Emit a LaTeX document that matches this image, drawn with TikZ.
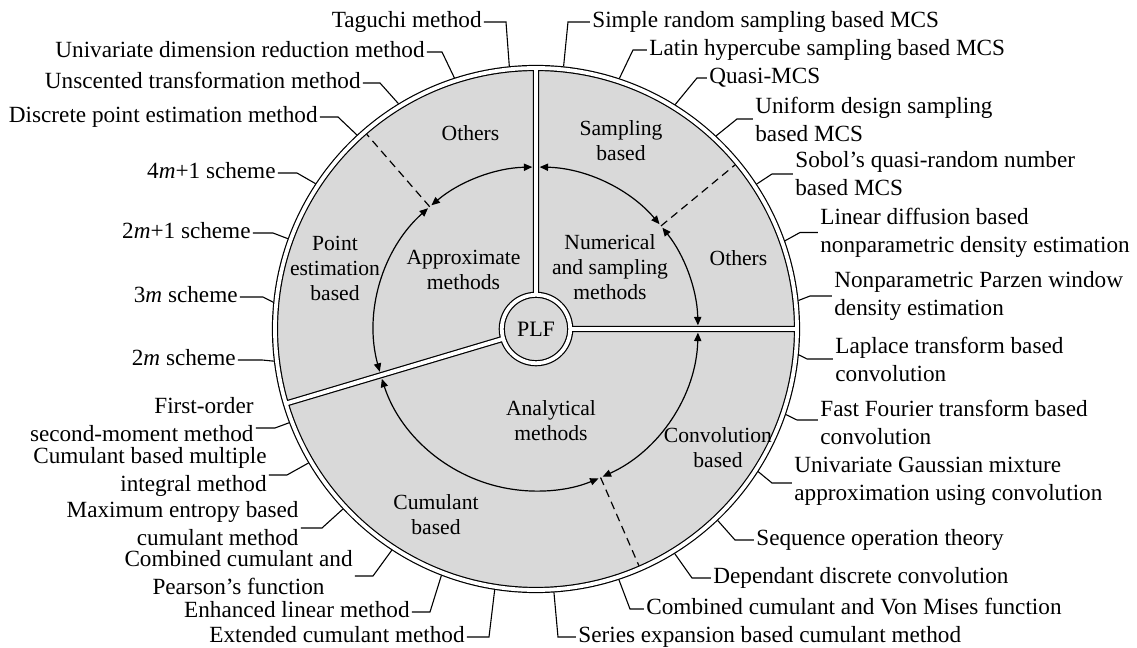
\documentclass[tikz,border=0pt]{standalone}
\usepackage{fontspec}
\setmainfont{Liberation Serif}
\usetikzlibrary{arrows.meta}

\begin{document}
\begin{tikzpicture}[
  x=0.5pt, y=0.5pt,
  ring/.style={draw=black, line width=0.6pt, double=white, double distance=1.9pt},
  loopar/.style={line width=0.6pt, {Triangle[length=4.2pt,width=3.6pt]}-{Triangle[length=4.2pt,width=3.6pt]}},
  cut/.style={line width=0.6pt, dash pattern=on 4pt off 2.6pt},
  lead/.style={line width=0.55pt},
  lbl/.style={inner sep=1pt, font=\fontsize{11.6}{14}\selectfont},
  lblL/.style={lbl, anchor=east, align=right},
  lblR/.style={lbl, anchor=west, align=left},
  one/.style={text height=7.9pt, text depth=2.5pt},
  sec/.style={inner sep=0pt, align=center, font=\fontsize{10.8}{12.5}\selectfont}
]
  \useasboundingbox (-536,-319) rectangle (601,329);
  \fill[black!15] (0,0) circle (261);

  \draw[loopar] (91.3:162) arc[start angle=91.3, end angle=130.2, radius=162];
  \draw[loopar] (131.8:162) arc[start angle=131.8, end angle=195.3, radius=162];
  \draw[loopar] (1.3:162) arc[start angle=1.3, end angle=38.7, radius=162];
  \draw[loopar] (40.3:162) arc[start angle=40.3, end angle=88.7, radius=162];
  \draw[loopar] (197.9:162) arc[start angle=197.9, end angle=292.7, radius=162];
  \draw[loopar] (294.3:162) arc[start angle=294.3, end angle=358.7, radius=162];
  \draw[cut] (131:162) -- (131:258);
  \draw[cut] (39.5:162) -- (39.5:258);
  \draw[cut] (293.5:162) -- (293.5:258);

  \draw[ring] (0,0) circle (261) (0,0) circle (34.2)
    (90:34.2) -- (90:261) (0:34.2) -- (0:261) (196.6:34.2) -- (196.6:261);

  \node[sec] (oth1) at (-65.5,196) {Others};
  \node[sec] (samp) at (85,188.5) {Sampling\\based};
  \node[sec] (pest) at (-201,61) {Point\\estimation\\based};
  \node[sec] (appr) at (-72.5,59.5) {Approximate\\methods};
  \node[sec] (nums) at (74,62) {Numerical\\and sampling\\methods};
  \node[sec] (oth2) at (202.5,71) {Others};
  \node[sec, font=\fontsize{11}{13}\selectfont] (plf) at (0,0) {PLF};
  \node[sec] (anal) at (15,-92) {Analytical\\methods};
  \node[sec] (conv) at (182,-119) {Convolution\\based};
  \node[sec] (cumu) at (-100,-185.5) {Cumulant\\based};

  \node[lblL, one] (tag) at (-52,307) {Taguchi method};
  \node[lblL, one] (udr) at (-109,277) {Univariate dimension reduction method};
  \node[lblL, one] (utm) at (-173,246) {Unscented transformation method};
  \node[lblL, one] (dpe) at (-216,212) {Discrete point estimation method};
  \node[lblL, one] (s4m) at (-258,156) {4\textit{m}+1 scheme};
  \node[lblL, one] (s2m1) at (-283,96) {2\textit{m}+1 scheme};
  \node[lblL, one] (s3m) at (-296,32) {3\textit{m} scheme};
  \node[lblL, one] (s2m) at (-298,-31) {2\textit{m} scheme};
  \node[lblL] (fosm) at (-280,-91) {First-order\\second-moment method};
  \node[lblL] (cbmi) at (-267,-142.5) {Cumulant based multiple\\integral method};
  \node[lblL] (mebc) at (-235,-194.5) {Maximum entropy based\\cumulant method};
  \node[lblL, align=center] (ccpf) at (-181,-244) {Combined cumulant and\\Pearson's function};
  \node[lblL, one] (elm) at (-124,-283) {Enhanced linear method};
  \node[lblL, one] (ecm) at (-69,-308) {Extended cumulant method};

  \node[lblR, one] (srs) at (54,307) {Simple random sampling based MCS};
  \node[lblR, one] (lhs) at (111,279) {Latin hypercube sampling based MCS};
  \node[lblR, one] (qmc) at (171,251) {Quasi-MCS};
  \node[lblR] (uds) at (217,210) {Uniform design sampling\\based MCS};
  \node[lblR] (sob) at (257,155) {Sobol's quasi-random number\\based MCS};
  \node[lblR] (ldb) at (282,96.5) {Linear diffusion based\\nonparametric density estimation};
  \node[lblR] (npw) at (296,33) {Nonparametric Parzen window\\density estimation};
  \node[lblR] (ltc) at (297,-30) {Laplace transform based\\convolution};
  \node[lblR] (fft) at (282,-93.5) {Fast Fourier transform based\\convolution};
  \node[lblR] (ugm) at (256,-152) {Univariate Gaussian mixture\\approximation using convolution};
  \node[lblR, one] (sot) at (218,-211) {Sequence operation theory};
  \node[lblR, one] (ddc) at (175,-249) {Dependant discrete convolution};
  \node[lblR, one] (ccvm) at (108,-280) {Combined cumulant and Von Mises function};
  \node[lblR, one] (sebc) at (40,-308) {Series expansion based cumulant method};

  \coordinate (tag-r) at (95.8:264);
  \coordinate (udr-r) at (108:264);
  \coordinate (utm-r) at (121.4:264);
  \coordinate (dpe-r) at (132.7:264);
  \coordinate (s4m-r) at (146.6:264);
  \coordinate (s2m1-r) at (160:264);
  \coordinate (s3m-r) at (174.2:264);
  \coordinate (s2m-r) at (187:264);
  \coordinate (fosm-r) at (200.8:264);
  \coordinate (cbmi-r) at (210.5:264);
  \coordinate (mebc-r) at (223:264);
  \coordinate (ccpf-r) at (236.9:264);
  \coordinate (elm-r) at (249:264);
  \coordinate (ecm-r) at (261:264);
  \coordinate (srs-r) at (84:264);
  \coordinate (lhs-r) at (71.6:264);
  \coordinate (qmc-r) at (58.2:264);
  \coordinate (uds-r) at (47:264);
  \coordinate (sob-r) at (33.3:264);
  \coordinate (ldb-r) at (19.5:264);
  \coordinate (npw-r) at (6.2:264);
  \coordinate (ltc-r) at (-5.6:264);
  \coordinate (fft-r) at (-18.9:264);
  \coordinate (ugm-r) at (-32.7:264);
  \coordinate (sot-r) at (-46.5:264);
  \coordinate (ddc-r) at (-58.3:264);
  \coordinate (ccvm-r) at (-71.7:264);
  \coordinate (sebc-r) at (-86.1:264);

  \draw[lead] (tag.east) -- ++(22,0) -- (tag-r);
  \draw[lead] (udr.east) -- ++(15,0) -- (udr-r);
  \draw[lead] (utm.east) -- ++(17,0) -- (utm-r);
  \draw[lead] (dpe.east) -- ++(18,0) -- (dpe-r);
  \draw[lead] (s4m.east) -- ++(19,0) -- (s4m-r);
  \draw[lead] (s2m1.east) -- ++(20,0) -- (s2m1-r);
  \draw[lead] (s3m.east) -- ++(23,0) -- (s3m-r);
  \draw[lead] (s2m.east) -- ++(24,0) -- (s2m-r);
  \draw[lead] ([yshift=-4pt]fosm.east) -- ++(19,0) -- (fosm-r);
  \draw[lead] ([yshift=-1.75pt]cbmi.east) -- ++(18,0) -- (cbmi-r);
  \draw[lead] ([yshift=-2.25pt]mebc.east) -- ++(21,0) -- (mebc-r);
  \draw[lead] ([yshift=-1.5pt]ccpf.east) -- ++(18,0) -- (ccpf-r);
  \draw[lead] (elm.east) -- ++(18,0) -- (elm-r);
  \draw[lead] (ecm.east) -- ++(22,0) -- (ecm-r);
  \draw[lead] (srs.west) -- ++(-22,0) -- (srs-r);
  \draw[lead] (lhs.west) -- ++(-14,0) -- (lhs-r);
  \draw[lead] (qmc.west) -- ++(-10,0) -- (qmc-r);
  \draw[lead] (uds.west) -- ++(-16,0) -- (uds-r);
  \draw[lead] (sob.west) -- ++(-21,0) -- (sob-r);
  \draw[lead] (ldb.west) -- ++(-18,0) -- (ldb-r);
  \draw[lead] (npw.west) -- ++(-22,0) -- (npw-r);
  \draw[lead] (ltc.west) -- ++(-26,0) -- (ltc-r);
  \draw[lead] ([yshift=1.25pt]fft.west) -- ++(-21,0) -- (fft-r);
  \draw[lead] ([yshift=-1pt]ugm.west) -- ++(-20,0) -- (ugm-r);
  \draw[lead] (sot.west) -- ++(-19,0) -- (sot-r);
  \draw[lead] (ddc.west) -- ++(-19,0) -- (ddc-r);
  \draw[lead] (ccvm.west) -- ++(-14,0) -- (ccvm-r);
  \draw[lead] (sebc.west) -- ++(-18,0) -- (sebc-r);
\end{tikzpicture}
\end{document}
